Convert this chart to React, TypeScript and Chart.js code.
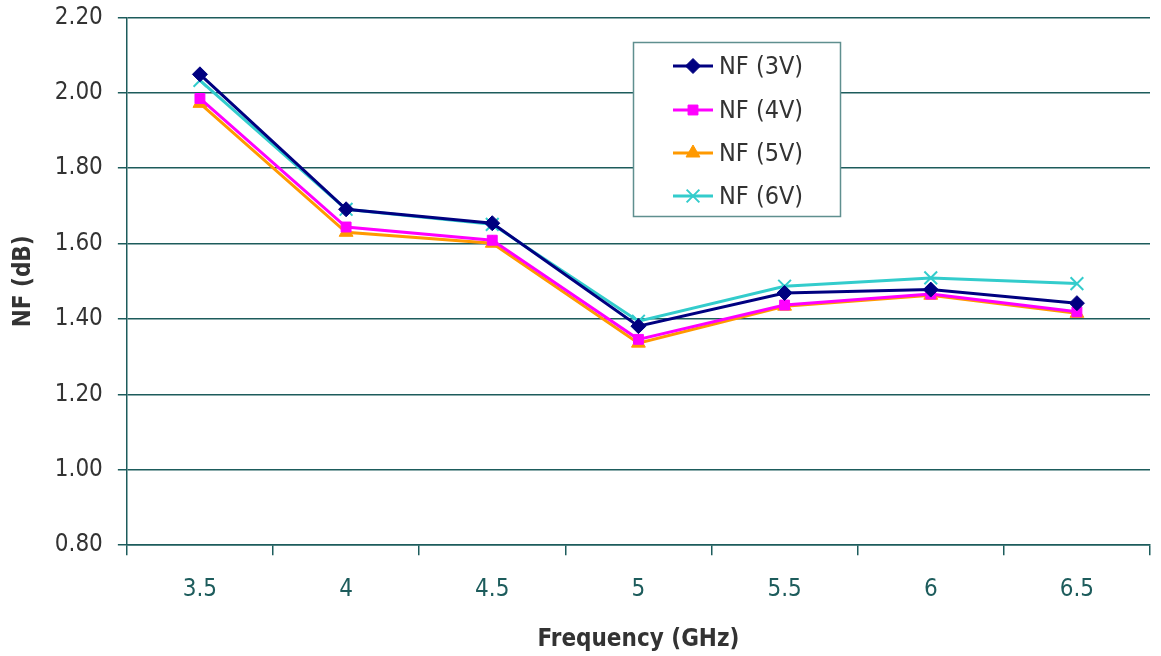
import React, { useEffect, useRef } from "react";
import { Chart, registerables } from "chart.js";
import { drawPoint } from "chart.js/helpers";

Chart.register(...registerables);

const categories = ["3.5", "4", "4.5", "5", "5.5", "6", "6.5"];
const nf3V = [2.049, 1.691, 1.654, 1.381, 1.469, 1.478, 1.442];
const nf4V = [1.985, 1.644, 1.609, 1.346, 1.437, 1.466, 1.419];
const nf5V = [1.972, 1.630, 1.601, 1.336, 1.434, 1.463, 1.415];
const nf6V = [2.033, 1.691, 1.651, 1.394, 1.487, 1.509, 1.494];
const seriesNames = ["NF (3V)", "NF (4V)", "NF (5V)", "NF (6V)"];
const yTicks = [0.8, 1.0, 1.2, 1.4, 1.6, 1.8, 2.0, 2.2];

const FONT = '"DejaVu Sans Condensed", "Roboto", sans-serif';
const TEAL = "#1d5c5c";
const SHIFT = 12;
const CANVAS_H = 666;

const legendPlugin = {
  id: "boxLegend",
  afterDraw(chart: any) {
    const ctx = chart.ctx;
    const x0 = 633, y0 = 42 + SHIFT, w = 207, h = 174;
    ctx.save();
    ctx.fillStyle = "#ffffff";
    ctx.fillRect(x0, y0, w, h);
    ctx.strokeStyle = "#5f8f8f";
    ctx.lineWidth = 1.5;
    ctx.strokeRect(x0 + 0.5, y0 + 0.5, w, h);
    const rowsY = [66, 110, 153, 196].map((v) => v + SHIFT);
    chart.data.datasets.forEach((ds: any, i: number) => {
      const y = rowsY[i];
      ctx.strokeStyle = ds.borderColor;
      ctx.lineWidth = 3;
      ctx.beginPath();
      ctx.moveTo(673, y);
      ctx.lineTo(713, y);
      ctx.stroke();
      ctx.fillStyle = ds.pointBackgroundColor;
      ctx.strokeStyle = ds.pointBorderColor;
      ctx.lineWidth = ds.pointBorderWidth;
      drawPoint(ctx, { pointStyle: ds.pointStyle, radius: ds.pointRadius, borderWidth: ds.pointBorderWidth, rotation: 0 }, 693, y);
      ctx.fillStyle = "#333333";
      ctx.font = `25px ${FONT}`;
      ctx.textBaseline = "middle";
      ctx.textAlign = "left";
      ctx.fillText(ds.label, 719, y + 1);
    });
    ctx.restore();
  },
};

export default function App() {
  const ref = useRef<HTMLCanvasElement | null>(null);
  useEffect(() => {
    document.body.style.margin = "0";
    const mk = (label: string, data: number[], color: string, style: string, radius: number, bw: number) => ({
      label,
      data,
      borderColor: color,
      backgroundColor: color,
      pointBackgroundColor: color,
      pointBorderColor: color,
      pointStyle: style,
      pointRadius: radius,
      pointBorderWidth: bw,
      borderWidth: 3,
      tension: 0,
    });
    const chart = new Chart(ref.current!, {
      type: "line",
      data: {
        labels: categories,
        datasets: [
          mk(seriesNames[0], nf3V, "#000080", "rectRot", 7.5, 1),
          mk(seriesNames[1], nf4V, "#ff00ff", "rect", 7, 1),
          mk(seriesNames[2], nf5V, "#ff9900", "triangle", 8, 1),
          mk(seriesNames[3], nf6V, "#33cccc", "crossRot", 9, 2),
        ],
      },
      options: {
        animation: false,
        responsive: false,
        layout: { padding: { top: 0, right: 8, left: 5, bottom: 0 } },
        plugins: { legend: { display: false }, tooltip: { enabled: false } },
        scales: {
          x: {
            offset: true,
            grid: { offset: true, drawOnChartArea: false, drawTicks: true, tickLength: 10, color: TEAL, lineWidth: 1.5 },
            border: { color: TEAL, width: 1.5 },
            ticks: { color: "#1d5c5c", font: { family: FONT, size: 24 }, padding: 20 },
            title: { display: true, text: "Frequency (GHz)", color: "#333333", font: { family: FONT, size: 24, weight: "bold", lineHeight: 1.0 }, padding: { top: 4, bottom: 2 } },
          },
          y: {
            min: 0.8,
            max: 2.2,
            afterBuildTicks: (scale: any) => { scale.ticks = yTicks.map((v) => ({ value: v })); },
            grid: { color: TEAL, lineWidth: 1.5, drawTicks: true, tickLength: 9 },
            border: { color: TEAL, width: 1.5 },
            ticks: { color: "#333333", font: { family: FONT, size: 24 }, padding: 15, callback: (v: any) => Number(v).toFixed(2) },
            title: { display: true, text: "NF (dB)", color: "#333333", font: { family: FONT, size: 24, weight: "bold" }, padding: { bottom: 2 } },
          },
        },
      },
      plugins: [legendPlugin],
    } as any);
    return () => chart.destroy();
  }, []);
  return (
    <div style={{ width: 1161, height: 656, position: "relative", overflow: "hidden" }}>
      <canvas ref={ref} width={1161} height={CANVAS_H} style={{ display: "block", position: "absolute", left: 0, top: -SHIFT }} />
    </div>
  );
}
